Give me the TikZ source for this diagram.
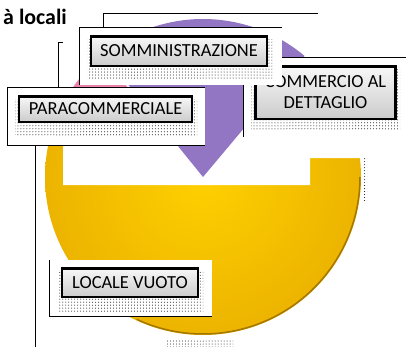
\documentclass[tikz,border=0pt]{standalone}
\usepackage{fontspec}
\setmainfont{Carlito}
\usetikzlibrary{patterns}
\definecolor{pieY}{RGB}{255,208,0}
\definecolor{pieY2}{RGB}{236,180,0}
\definecolor{pieRim}{RGB}{165,118,0}
\definecolor{pieP}{RGB}{146,118,196}
\definecolor{pieK}{RGB}{232,130,170}
\begin{document}
\begin{tikzpicture}[x=1bp,y=-1bp,
  lead/.style={draw=black,line width=1bp},
  grp/.style={fill=white},
  btn/.style={draw=black,line width=2.5bp,top color=gray!6,bottom color=gray!40,
    font=\fontsize{18.5}{21}\selectfont,inner sep=0pt,align=center},
  shad/.style={pattern=dots,pattern color=black}]
\useasboundingbox (0,0) rectangle (406,347);
% pie
\coordinate (pc) at (203,177);
\shade[inner color=pieY,outer color=pieY2] (pc) circle[radius=158];
\draw[pieRim,line width=1.5bp] (pc) ++(0:157) arc[start angle=0,end angle=115,radius=157];
\fill[shad] (167,339) rectangle (233,346);
\fill[shad] (363,158) rectangle (367,200);
\fill[white] (40,0) -- (40,145) -- (63,145) -- (63,185) -- (310,185) -- (310,158) -- (362,158) -- (362,0) -- cycle;
\begin{scope}
  \clip (0,0) rectangle (406,87);
  \fill[pieK] (pc) -- ++(-130:158) arc[start angle=-130,end angle=-150,radius=158] -- cycle;
\end{scope}
\fill[pieP] (pc) -- ++(-50:158) arc[start angle=-50,end angle=-129,radius=158] -- cycle;
% commercio group
\coordinate (cA) at (406,57); \coordinate (cB) at (243,57); \coordinate (cC) at (243,137);
\fill[grp] (cB) rectangle (406,137);
\draw[lead] (cA) -- (cB) -- (cC);
\fill[shad] (251,69) rectangle (400,130);
\node[btn,minimum width=140bp,minimum height=52.5bp] (comm) at (325.5,92.5) {COMMERCIO AL\\DETTAGLIO};
% somministrazione group
\coordinate (sA) at (282,27); \coordinate (sB) at (79,27); \coordinate (sC) at (79,85);
\fill[grp] (sB) rectangle (282,85);
\draw[lead] (sA) -- (sB) -- (sC);
\fill[shad] (87,39) rectangle (272,78);
\node[btn,minimum width=175.5bp,minimum height=29.5bp] (somm) at (179,51) {SOMMINISTRAZIONE};
% paracommerciale group
\coordinate (pA) at (205,87); \coordinate (pB) at (7,87); \coordinate (pC) at (7,145); \coordinate (pD) at (205,145);
\fill[grp] (pB) rectangle (pD);
\draw[lead] (pA) -- (pB) -- (pC) -- (pD);
\fill[shad] (15,99) rectangle (197,135);
\node[btn,minimum width=172.5bp,minimum height=25.5bp] (para) at (105.5,109) {PARACOMMERCIALE};
% locale vuoto group
\coordinate (lA) at (49,260); \coordinate (lB) at (49,316); \coordinate (lC) at (212,316);
\fill[grp] (lA) rectangle (lC);
\draw[lead] (lA) -- (lB) -- (lC);
\fill[shad] (58,271) rectangle (203,311);
\node[btn,minimum width=135.5bp,minimum height=28.5bp] (vuoto) at (130,282.5) {LOCALE VUOTO};
% leader lines
\coordinate (k1) at (63,42); \coordinate (k2) at (58,42); \coordinate (k3) at (58,87);
\draw[lead] (k1) -- (k2) -- (k3);
\coordinate (m1) at (318,13); \coordinate (m2) at (103,13); \coordinate (m3) at (103,27);
\draw[lead] (m1) -- (m2) -- (m3);
\coordinate (v1) at (35,145); \coordinate (v2) at (35,347);
\draw[lead] (v1) -- (v2);
% title
\node[anchor=base east,inner sep=0pt,font=\fontsize{22}{26}\selectfont\bfseries] (title) at (67,24) {à locali};
\end{tikzpicture}
\end{document}
